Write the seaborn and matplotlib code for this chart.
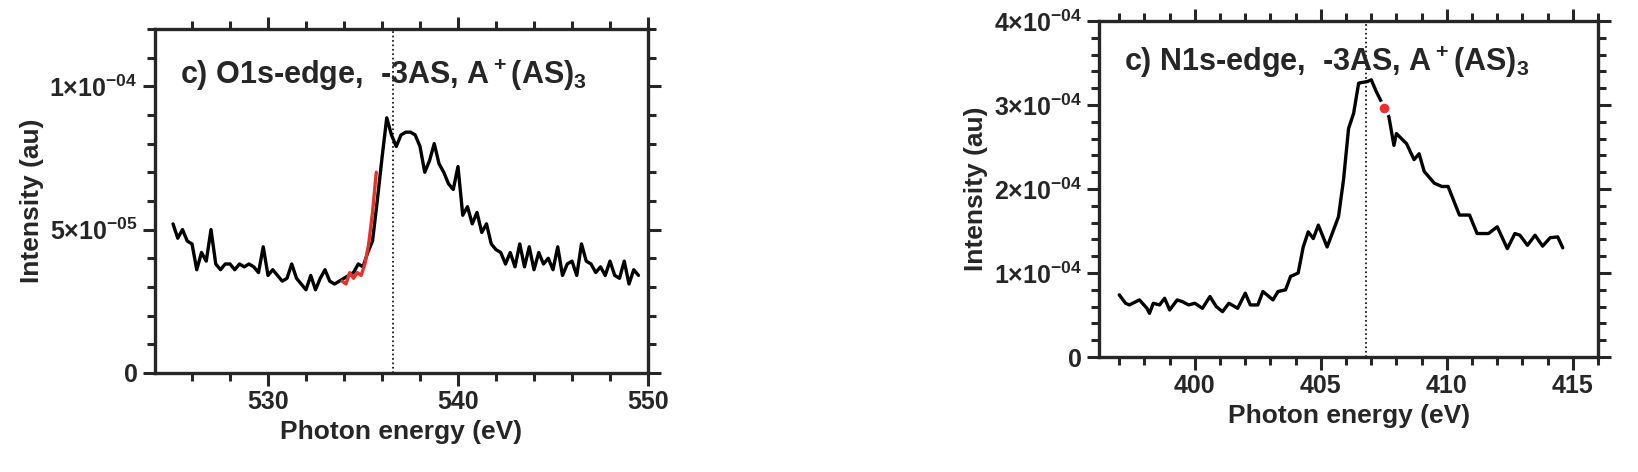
import matplotlib
matplotlib.use("Agg")
import matplotlib.pyplot as plt
import numpy as np
import pandas as pd
import seaborn as sns
from matplotlib.ticker import MultipleLocator, FixedLocator

sns.set_style("ticks")
plt.rcParams["font.family"] = ["Liberation Sans", "DejaVu Sans"]
plt.rcParams["font.weight"] = "bold"
plt.rcParams["mathtext.fontset"] = "custom"
plt.rcParams["mathtext.rm"] = "Liberation Sans:bold"
plt.rcParams["mathtext.default"] = "rm"

# ---- O1s edge (units of 1e-5) ----
o1s_x = np.arange(525.0, 549.51, 0.25)
o1s_y = [5.2, 4.7, 5.0, 4.6, 4.5, 3.6, 4.2, 3.9, 5.0, 3.8,
         3.6, 3.8, 3.8, 3.6, 3.8, 3.7, 3.8, 3.7, 3.5, 4.4,
         3.4, 3.6, 3.4, 3.2, 3.3, 3.8, 3.3, 3.1, 2.9, 3.4,
         2.9, 3.3, 3.6, 3.2, 3.1, 3.2, 3.3, 3.4, 3.5, 3.8,
         3.7, 4.2, 4.6, 6.0, 7.5, 8.9, 8.3, 7.9, 8.3, 8.4,
         8.4, 8.3, 7.9, 7.0, 7.4, 8.0, 7.3, 7.0, 6.6, 6.4,
         7.2, 5.5, 5.8, 5.2, 5.6, 4.9, 5.2, 4.5, 4.3, 4.2,
         3.8, 4.2, 3.7, 4.5, 3.7, 4.4, 3.6, 4.2, 3.8, 4.0,
         3.6, 4.4, 3.4, 3.8, 3.9, 3.4, 4.5, 3.9, 3.8, 3.5,
         3.7, 3.4, 3.9, 3.4, 3.3, 3.9, 3.1, 3.6, 3.4]
o1s_red_x = [533.9, 534.1, 534.3, 534.5, 534.7, 534.9, 535.1, 535.3, 535.5, 535.7]
o1s_red_y = [3.2, 3.1, 3.5, 3.3, 3.5, 3.4, 3.8, 4.5, 5.6, 7.0]
o1s_line = 536.6

# ---- N1s edge (units of 1e-5) ----
n1s_x = [397.0, 397.25, 397.4, 397.8, 398.1, 398.2, 398.35, 398.6, 398.8, 399.0,
         399.3, 399.5, 399.75, 400.0, 400.3, 400.6, 400.85, 401.1, 401.35, 401.7,
         402.0, 402.2, 402.5, 402.7, 403.1, 403.3, 403.6, 403.8, 404.1, 404.3,
         404.5, 404.7, 404.9, 405.25, 405.7, 405.9, 406.1, 406.3, 406.5, 406.85,
         407.0, 407.2, 407.7, 407.9, 408.0, 408.4, 408.7, 408.9, 409.1, 409.5,
         409.8, 410.05, 410.5, 410.9, 411.2, 411.65, 412.0, 412.4, 412.7, 412.9,
         413.2, 413.5, 413.8, 414.1, 414.4, 414.6]
n1s_y = [7.4, 6.4, 6.2, 6.8, 5.8, 5.2, 6.4, 6.2, 7.0, 5.6,
         6.8, 6.6, 6.2, 6.4, 5.8, 7.2, 6.0, 5.4, 6.4, 5.8,
         7.6, 6.2, 6.2, 7.8, 6.8, 7.8, 8.0, 9.6, 10.0, 13.1,
         14.9, 14.1, 15.7, 13.1, 16.7, 21.1, 27.2, 29.0, 32.6, 32.8,
         33.0, 31.6, 28.6, 25.2, 26.6, 25.4, 23.5, 24.2, 22.1, 20.7,
         20.3, 20.3, 16.9, 16.9, 14.7, 14.7, 15.5, 12.9, 14.7, 14.5,
         13.3, 14.5, 13.2, 14.2, 14.3, 13.0]
n1s_dot_x = [407.5]
n1s_dot_y = [29.7]
n1s_line = 406.8

o1s = pd.DataFrame({"x": o1s_x, "y": np.array(o1s_y) * 1e-5})
o1s_red = pd.DataFrame({"x": o1s_red_x, "y": np.array(o1s_red_y) * 1e-5})
n1s = pd.DataFrame({"x": n1s_x, "y": np.array(n1s_y) * 1e-5})

fig = plt.figure(figsize=(16.38, 4.72), dpi=100)
ax1 = fig.add_axes([0.0946, 0.21, 0.301, 0.7286])
ax2 = fig.add_axes([0.671, 0.2436, 0.3046, 0.7119])

sns.lineplot(data=o1s, x="x", y="y", ax=ax1, color="black", lw=2.4, zorder=2)
sns.lineplot(data=o1s_red, x="x", y="y", ax=ax1, color="#e8302c", lw=2.4, zorder=3)
sns.lineplot(data=n1s, x="x", y="y", ax=ax2, color="black", lw=2.4)
ax2.scatter(np.array(n1s_dot_x), np.array(n1s_dot_y) * 1e-5, s=80, color="#e8302c",
            edgecolor="white", linewidth=2, zorder=5)

ax1.axvline(o1s_line, color="black", ls=":", lw=1.2)
ax2.axvline(n1s_line, color="black", ls=":", lw=1.2)

ax1.set_xlim(524.05, 550)
ax1.set_ylim(0, 1.2e-4)
ax1.xaxis.set_major_locator(FixedLocator([530, 540, 550]))
ax1.xaxis.set_minor_locator(MultipleLocator(2))
ax1.yaxis.set_major_locator(FixedLocator([0, 5e-5, 1e-4]))
ax1.yaxis.set_minor_locator(MultipleLocator(1e-5))
ax1.set_yticklabels(["0", r"5$\times$10$^{-05}$", r"1$\times$10$^{-04}$"])

ax2.set_xlim(396.2, 416.0)
ax2.set_ylim(0, 4e-4)
ax2.xaxis.set_major_locator(FixedLocator([400, 405, 410, 415]))
ax2.xaxis.set_minor_locator(MultipleLocator(1))
ax2.yaxis.set_major_locator(FixedLocator([0, 1e-4, 2e-4, 3e-4, 4e-4]))
ax2.yaxis.set_minor_locator(MultipleLocator(2e-5))
ax2.set_yticklabels(["0", r"1$\times$10$^{-04}$", r"2$\times$10$^{-04}$",
                     r"3$\times$10$^{-04}$", r"4$\times$10$^{-04}$"])

for ax in (ax1, ax2):
    for s in ax.spines.values():
        s.set_linewidth(2.4)
    ax.tick_params(which="both", top=True, right=True, direction="out",
                   width=2.2, labelsize=18)
    ax.tick_params(which="major", length=9)
    ax.tick_params(which="minor", length=6)
    ax.set_xlabel("Photon energy (eV)", fontsize=19, fontweight="bold", labelpad=4)
    ax.set_ylabel("Intensity (au)", fontsize=19, fontweight="bold", labelpad=4)
    for lab in ax.get_xticklabels() + ax.get_yticklabels():
        lab.set_fontweight("bold")

ax1.text(0.05, 0.84, r"c) O1s-edge,  -3AS, A$^+$(AS)$_3$", transform=ax1.transAxes,
         fontsize=22, fontweight="bold")
ax2.text(0.05, 0.85, r"c) N1s-edge,  -3AS, A$^+$(AS)$_3$", transform=ax2.transAxes,
         fontsize=22, fontweight="bold")

fig.savefig("out.png", dpi=100)
